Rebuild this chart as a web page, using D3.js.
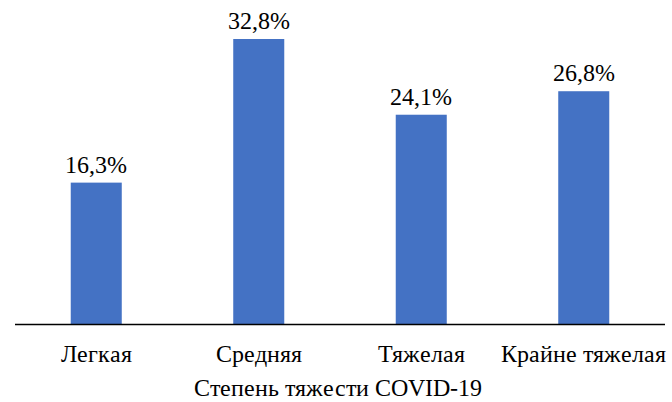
<!DOCTYPE html>
<html><head><meta charset="utf-8">
<script src="https://cdn.jsdelivr.net/npm/d3@7"></script>
<style>
@font-face { font-family: "ChartSerif"; src: local("Liberation Serif"), local("LiberationSerif"), local("Liberation Serif Regular"), local("LiberationSerif-Regular"); }
svg, svg text { font-family: "ChartSerif", "Liberation Serif", "Times New Roman", serif; }
</style>
</head><body style="margin:0">
<script>
const categories = ["Легкая", "Средняя", "Тяжелая", "Крайне тяжелая"];
const values = [16.3, 32.8, 24.1, 26.8];
const valueLabels = ["16,3%", "32,8%", "24,1%", "26,8%"];
const axisTitle = "Степень тяжести COVID-19";

const W = 672, H = 402;
const left = 15, right = 665, baseY = 324.5;
const FONT = "ChartSerif, Liberation Serif, Times New Roman, serif";

const svg = d3.select("body").append("svg").attr("width", W).attr("height", H)
  .attr("font-family", FONT);

const x = d3.scaleBand().domain(categories).range([left, right]).paddingInner(0.686).paddingOuter(0.343);
const y = d3.scaleLinear().domain([0, 32.8]).range([baseY, 39]);

svg.selectAll("rect.bar").data(values).enter().append("rect")
  .attr("x", (d, i) => x(categories[i]))
  .attr("width", x.bandwidth())
  .attr("y", d => y(d))
  .attr("height", d => baseY - y(d))
  .attr("fill", "#4472C4");

svg.selectAll("text.val").data(values).enter().append("text")
  .attr("x", (d, i) => x(categories[i]) + x.bandwidth() / 2)
  .attr("y", d => y(d) - 10)
  .attr("text-anchor", "middle")
  .attr("font-family", FONT).attr("font-size", 24).attr("fill", "#000")
  .text((d, i) => valueLabels[i]);

const axis = d3.axisBottom(x).tickSize(0).tickPadding(0);
const g = svg.append("g").attr("transform", `translate(0,${baseY})`).call(axis);
g.attr("font-family", FONT).attr("font-size", 24);
g.select(".domain").attr("stroke", "#000").attr("stroke-width", 1.3).attr("d", `M${left},0H${right}`);
g.selectAll(".tick text").attr("y", 37).attr("dy", null).attr("fill", "#000")
  .attr("font-family", FONT).attr("font-size", 24);

svg.append("text").attr("x", 338).attr("y", 396).attr("text-anchor", "middle")
  .attr("font-family", FONT).attr("font-size", 24).attr("fill", "#000")
  .text(axisTitle);
</script>
</body></html>
